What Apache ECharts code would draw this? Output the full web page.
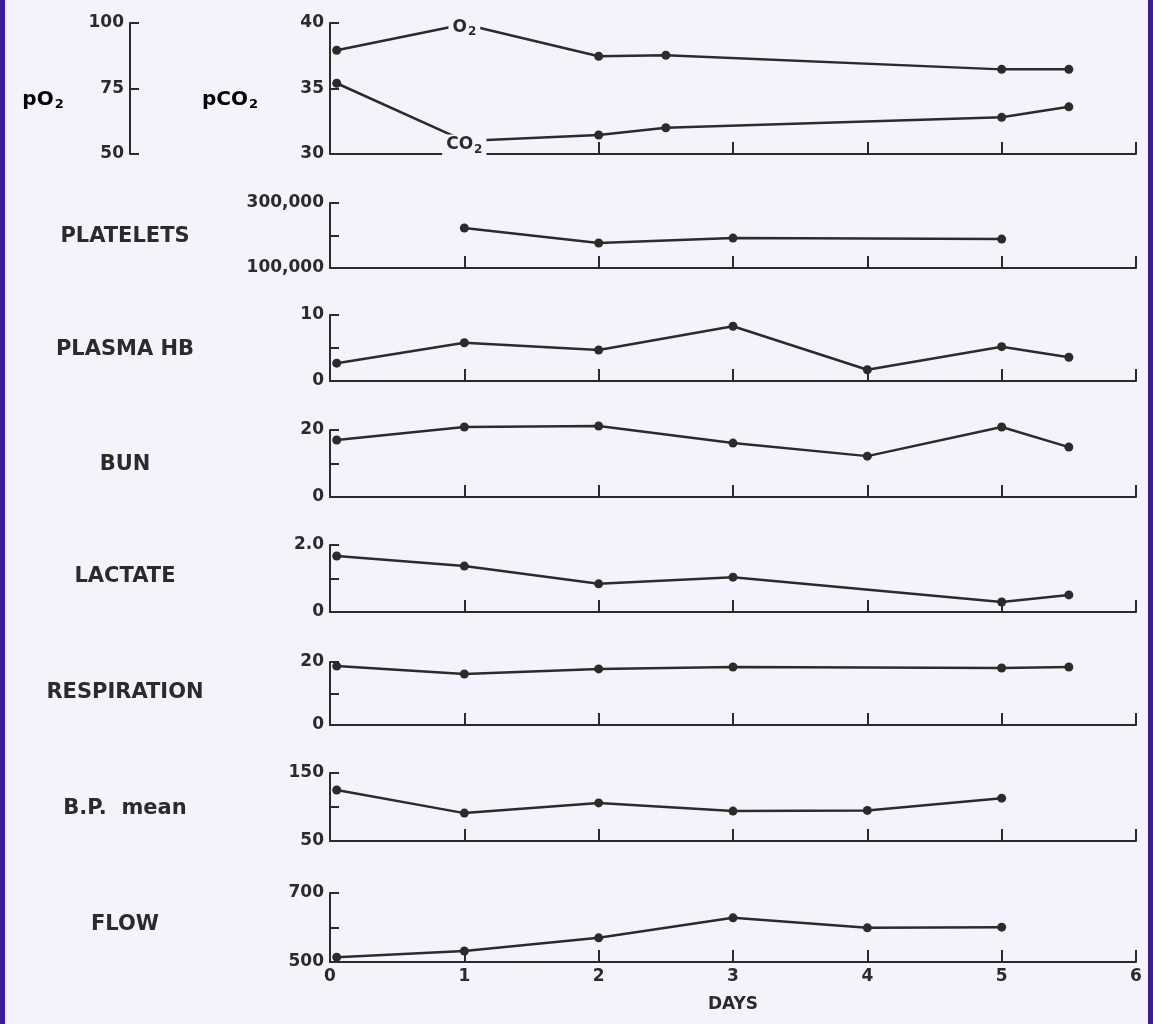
<!DOCTYPE html>
<html>
<head>
<meta charset="utf-8">
<script src="https://cdn.jsdelivr.net/npm/echarts@6/dist/echarts.min.js"></script>
<style>
html, body { margin: 0; padding: 0; background: #3d1c9c; }
#main { position: absolute; left: 5px; top: 0; width: 1143px; height: 1024px; }
</style>
</head>
<body>
<div id="main"></div>
<script>
// values, x = days
var o2Days = [0.05, 1, 2, 2.5, 5, 5.5];
var o2Vals = [89.6, 99.5, 87.3, 87.7, 82.3, 82.3];        // pO2
var co2Days = [0.05, 1, 2, 2.5, 5, 5.5];
var co2Vals = [35.4, 31.0, 31.45, 32.0, 32.8, 33.6];     // pCO2
var plateletDays = [1, 2, 3, 5];
var plateletVals = [223000, 177000, 192000, 189000];
var hbDays = [0.05, 1, 2, 3, 4, 5, 5.5];
var hbVals = [2.7, 5.8, 4.7, 8.3, 1.7, 5.2, 3.6];
var bunDays = [0.05, 1, 2, 3, 4, 5, 5.5];
var bunVals = [17.0, 20.9, 21.2, 16.1, 12.2, 20.9, 14.9];
var lactateDays = [0.05, 1, 2, 3, 5, 5.5];
var lactateVals = [1.67, 1.37, 0.84, 1.04, 0.30, 0.51];
var respDays = [0.05, 1, 2, 3, 5, 5.5];
var respVals = [18.7, 16.2, 17.8, 18.4, 18.1, 18.4];
var bpDays = [0.05, 1, 2, 3, 4, 5];
var bpVals = [125, 91, 106, 94, 95, 113];
var flowDays = [0.05, 1, 2, 3, 4, 5];
var flowVals = [514, 532, 570, 628, 599, 601];

var panelNames = ['PLATELETS', 'PLASMA HB', 'BUN', 'LACTATE', 'RESPIRATION', 'B.P.  mean', 'FLOW'];
// [min, max, step] for each panel's left axis
var yRanges = [[30, 40, 5], [100000, 300000, 100000], [0, 10, 5], [0, 20, 10], [0, 2, 1], [0, 20, 10], [50, 150, 50], [500, 700, 100]];
var pO2Range = [50, 100, 25];

var ink = '#2b2b2b';
var paper = '#f4f3fc';
var font = 'DejaVu Sans';

// panel boxes [top, height], px
var boxes = [[23, 131], [203, 65], [315, 66], [430, 67], [545, 67], [662, 63], [773, 68], [893, 69]];
var nameY = [237, 350, 465, 577, 693, 809, 925];

function pairs(xs, ys) {
  return xs.map(function (x, i) { return [x, ys[i]]; });
}

function fmtNum(v) {
  return String(v).replace(/\B(?=(\d{3})+(?!\d))/g, ',');
}

var tickFont = { color: ink, fontFamily: font, fontSize: 17, fontWeight: 'bold' };

var grids = [], xAxes = [], yAxes = [];

boxes.forEach(function (b, i) {
  grids.push({ left: 325, right: 12, top: b[0], height: b[1] });
  var last = i === boxes.length - 1;
  xAxes.push({
    type: 'value', gridIndex: i, min: 0, max: 6, interval: 1,
    axisLine: { lineStyle: { color: ink, width: 2 } },
    axisTick: { inside: true, length: 12, lineStyle: { color: ink, width: 2 } },
    splitLine: { show: false },
    axisLabel: Object.assign({ show: last, margin: 6 }, tickFont),
    name: last ? 'DAYS' : '', nameLocation: 'middle', nameGap: 34,
    nameTextStyle: tickFont
  });
});

yRanges.forEach(function (r, i) {
  yAxes.push({
    type: 'value', gridIndex: i, min: r[0], max: r[1], interval: r[2],
    axisLine: { show: true, lineStyle: { color: ink, width: 2 } },
    axisTick: { show: true, inside: true, length: 9, lineStyle: { color: ink, width: 2 } },
    splitLine: { show: false },
    axisLabel: Object.assign({
      margin: 6,
      formatter: function (v) {
        if (i === 0) return String(v);
        if (v !== r[0] && v !== r[1]) return '';
        if (i === 4 && v === r[1]) return '2.0';
        return fmtNum(v);
      }
    }, tickFont)
  });
  if (i === 0) {
    // pO2 scale, drawn further left on the first panel
    yAxes.push({
      type: 'value', gridIndex: 0, position: 'left', offset: 200,
      min: pO2Range[0], max: pO2Range[1], interval: pO2Range[2],
      axisLine: { show: true, lineStyle: { color: ink, width: 2 } },
      axisTick: { show: true, inside: true, length: 9, lineStyle: { color: ink, width: 2 } },
      splitLine: { show: false },
      axisLabel: Object.assign({ margin: 6 }, tickFont)
    });
  }
});

var subRich = {
  b: { fontFamily: font, fontSize: 17, fontWeight: 'bold', color: ink },
  s: { fontFamily: font, fontSize: 12, fontWeight: 'bold', color: ink, padding: [9, 0, 0, 1] }
};

function lineSeries(xi, yi, data) {
  return {
    type: 'line', xAxisIndex: xi, yAxisIndex: yi, data: data,
    symbol: 'circle', symbolSize: 9, animation: false, clip: false,
    lineStyle: { color: ink, width: 2.5 },
    itemStyle: { color: ink }
  };
}

// the day-1 point of each gas line carries its name instead of a dot
function gasLabel(p, text, dy) {
  return {
    value: p, symbolSize: 1, itemStyle: { color: paper },
    label: {
      show: true, position: 'inside', offset: [0, dy], formatter: text, rich: subRich,
      backgroundColor: paper, padding: [0, 4, 0, 4]
    }
  };
}

var o2Data = pairs(o2Days, o2Vals).map(function (p, k) {
  return k === 1 ? gasLabel(p, '{b|O}{s|2}', 3) : p;
});
var co2Data = pairs(co2Days, co2Vals).map(function (p, k) {
  return k === 1 ? gasLabel(p, '{b|CO}{s|2}', 4) : p;
});

var series = [
  lineSeries(0, 1, o2Data),
  lineSeries(0, 0, co2Data),
  lineSeries(1, 2, pairs(plateletDays, plateletVals)),
  lineSeries(2, 3, pairs(hbDays, hbVals)),
  lineSeries(3, 4, pairs(bunDays, bunVals)),
  lineSeries(4, 5, pairs(lactateDays, lactateVals)),
  lineSeries(5, 6, pairs(respDays, respVals)),
  lineSeries(6, 7, pairs(bpDays, bpVals)),
  lineSeries(7, 8, pairs(flowDays, flowVals))
];

var nameRich = {
  b: { fontFamily: font, fontSize: 20, fontWeight: 'bold', color: ink },
  s: { fontFamily: font, fontSize: 13, fontWeight: 'bold', color: ink, padding: [10, 0, 0, 1] }
};

var graphics = panelNames.map(function (n, i) {
  return {
    type: 'text', x: 120, y: nameY[i],
    style: { text: n, fill: ink, font: 'bold 21px "' + font + '"', textAlign: 'center', textVerticalAlign: 'middle' }
  };
});
graphics.push({
  type: 'text', x: 38, y: 100,
  style: { text: '{b|pO}{s|2}', rich: nameRich, textAlign: 'center', textVerticalAlign: 'middle' }
});
graphics.push({
  type: 'text', x: 225, y: 100,
  style: { text: '{b|pCO}{s|2}', rich: nameRich, textAlign: 'center', textVerticalAlign: 'middle' }
});

var chart = echarts.init(document.getElementById('main'));
chart.setOption({
  backgroundColor: paper,
  animation: false,
  grid: grids,
  xAxis: xAxes,
  yAxis: yAxes,
  series: series,
  graphic: graphics
});
</script>
</body>
</html>
